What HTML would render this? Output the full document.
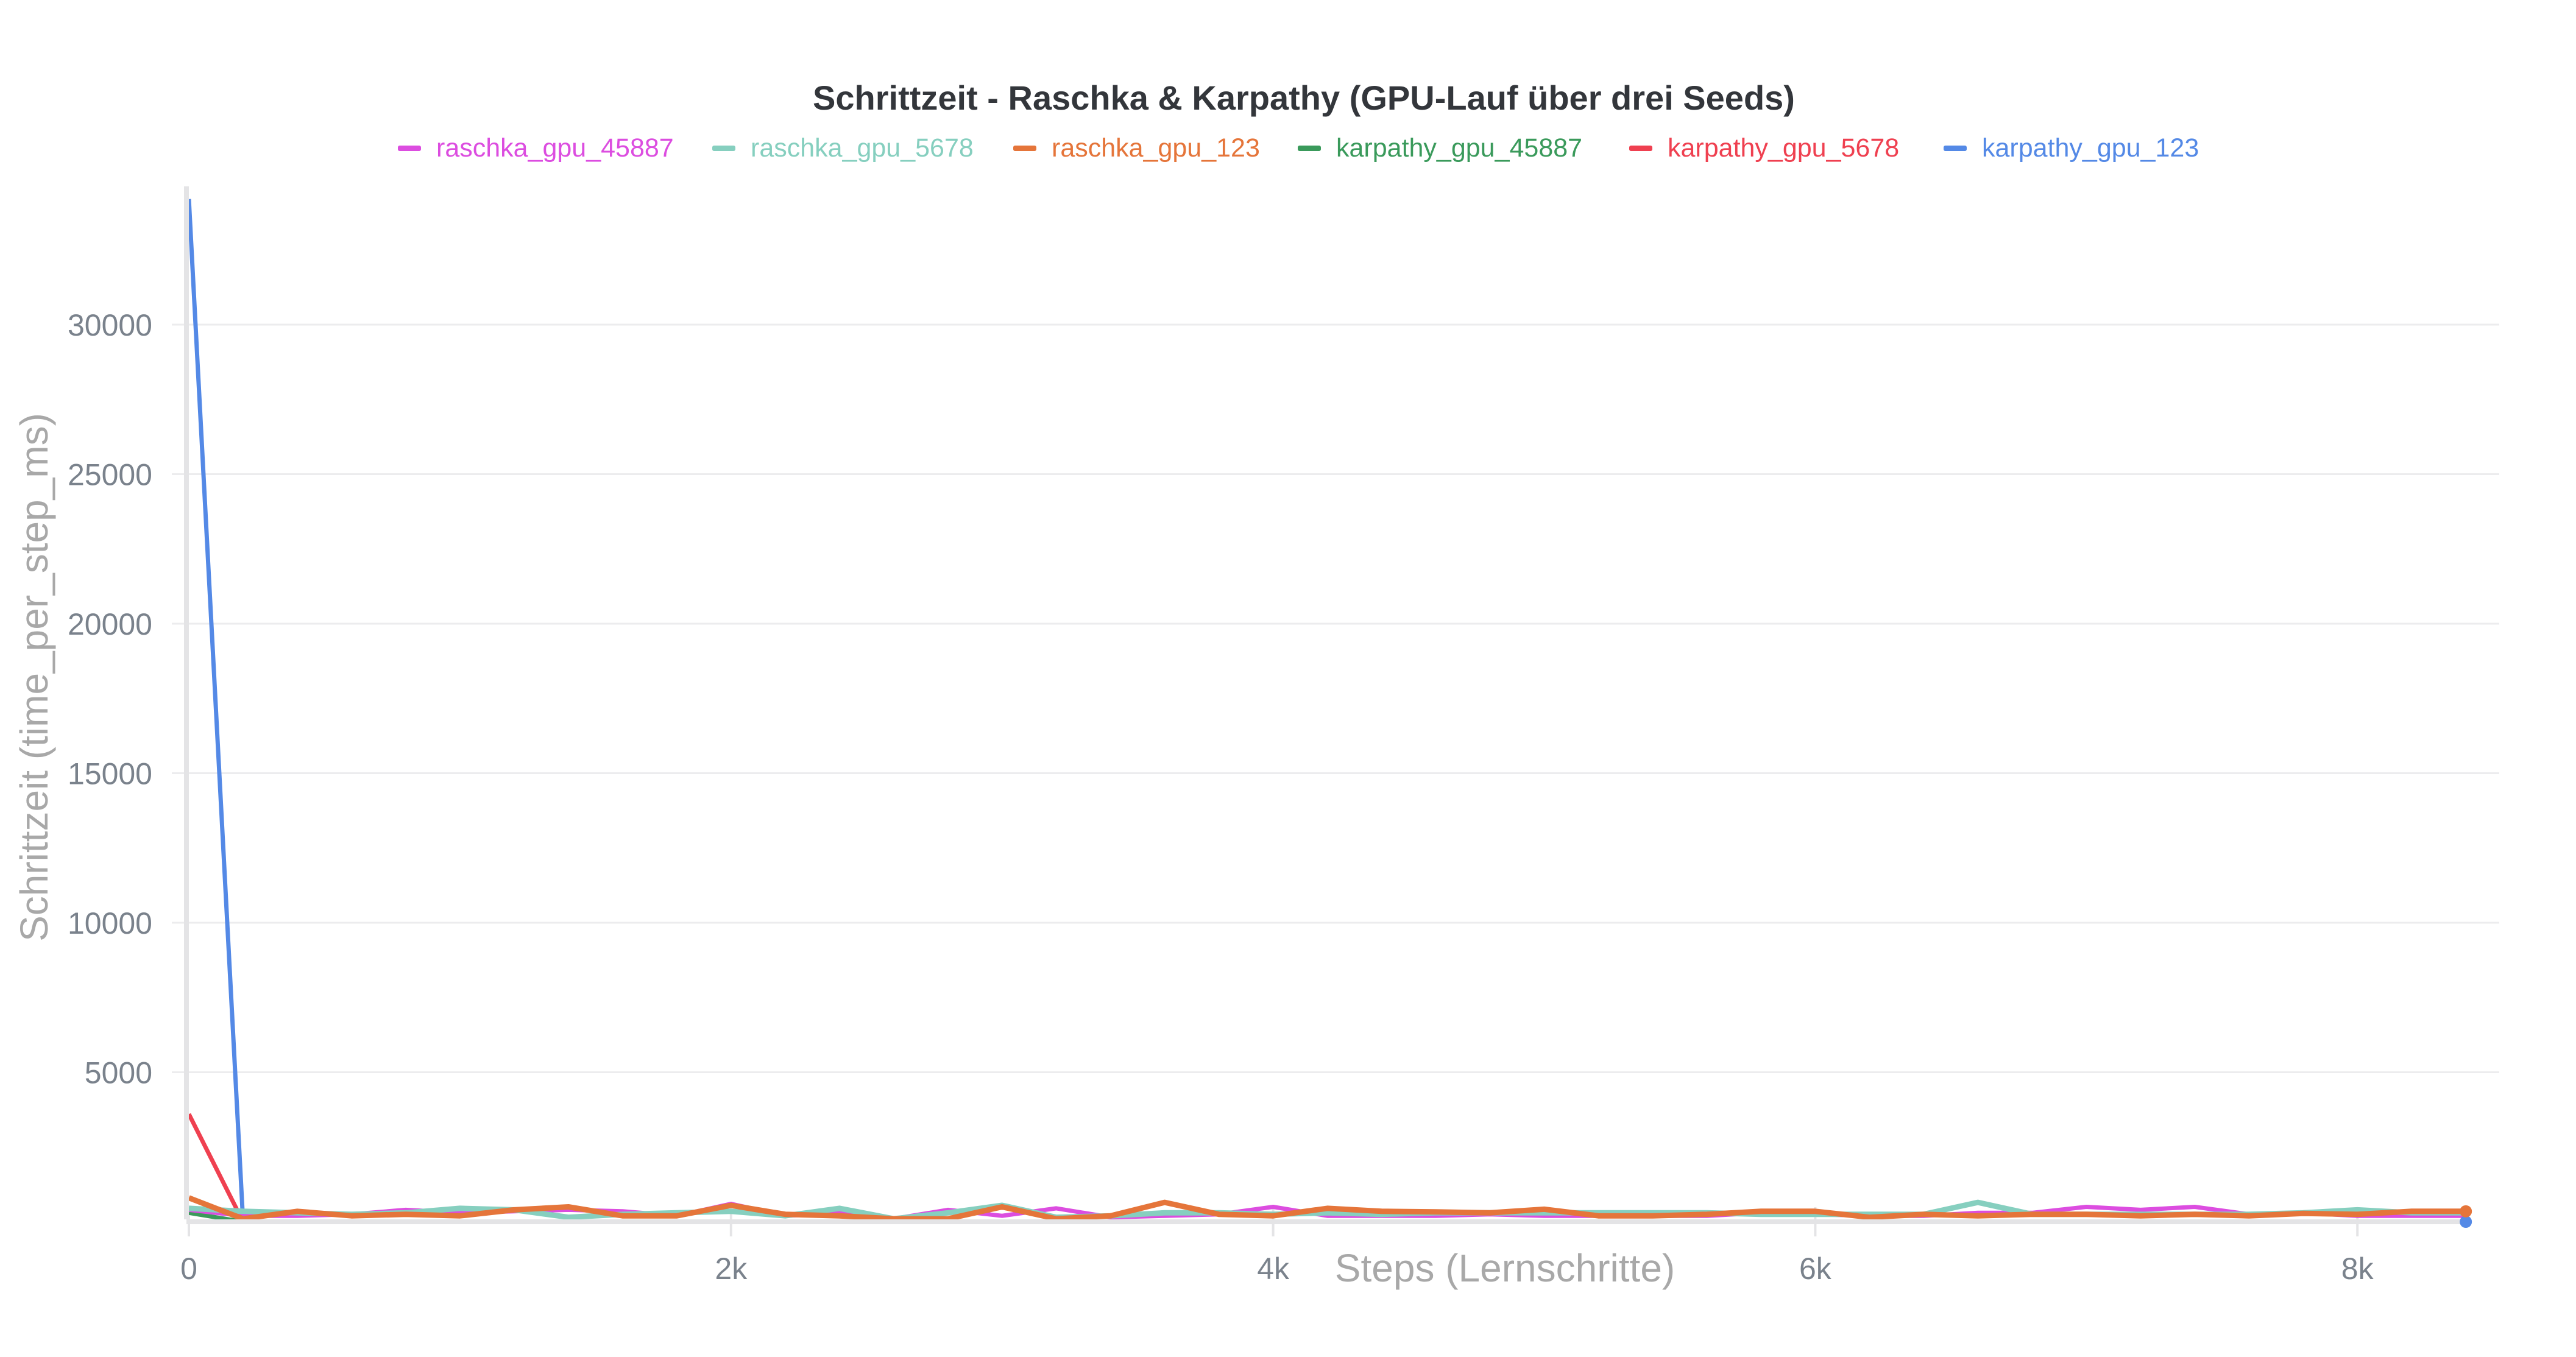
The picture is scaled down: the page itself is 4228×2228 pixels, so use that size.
<!DOCTYPE html>
<html><head><meta charset="utf-8"><style>
html,body{margin:0;padding:0;background:#fff;}
svg{display:block;font-family:"Liberation Sans",sans-serif;}
</style></head><body>
<svg id="chart" width="4228" height="2228" viewBox="0 0 4228 2228" xmlns="http://www.w3.org/2000/svg">
<text x="2140" y="180" text-anchor="middle" font-size="56" font-weight="bold" fill="#33363b">Schrittzeit - Raschka &amp; Karpathy (GPU-Lauf über drei Seeds)</text>
<g id="legend"></g>
<g id="grid"></g>
<g id="series"></g>
<g id="axes"></g>
<text x="78" y="1112" text-anchor="middle" font-size="64" fill="#a8a8a8" transform="rotate(-90 78 1112)">Schrittzeit (time_per_step_ms)</text>
<text x="2470" y="2126" text-anchor="middle" font-size="64" fill="#a8a8a8" transform="translate(0,-22)">Steps (Lernschritte)</text>
</svg>
<script>
const steps = [0,200,400,600,800,1000,1200,1400,1600,1800,2000,2200,2400,2600,2800,3000,3200,3400,3600,3800,4000,4200,4400,4600,4800,5000,5200,5400,5600,5800,6000,6200,6400,6600,6800,7000,7200,7400,7600,7800,8000,8200,8400];
const seriesNames = ["raschka_gpu_45887","raschka_gpu_5678","raschka_gpu_123","karpathy_gpu_45887","karpathy_gpu_5678","karpathy_gpu_123"];
const seriesColors = ["#dc4de0","#86cfbf","#e5753a","#3a9a5b","#ef4050","#5489e6"];
const raschka45887 = [400,200,200,250,400,300,350,400,350,200,600,200,300,100,400,200,450,150,200,250,500,200,200,200,250,200,200,200,200,300,250,200,200,300,300,500,400,500,250,300,200,200,200];
const raschka5678 = [450,350,300,250,300,450,400,150,250,300,350,200,450,100,300,550,150,200,300,300,250,300,250,300,300,300,300,300,300,250,250,250,250,650,250,250,250,250,250,300,400,300,300];
const raschka123 = [800,100,350,200,250,200,400,500,200,200,550,250,200,100,100,500,100,200,650,250,200,450,350,330,300,420,200,200,250,350,350,150,250,200,250,250,200,250,200,280,250,350,350];
const karpathy45887 = [300,0,0,0,0,0,0,0,0,0,0,0,0,0,0,0,0,0,0,0,0,0,0,0,0,0,0,0,0,0,0,0,0,0,0,0,0,0,0,0,0,0,0];
const karpathy5678 = [3600,0,0,0,0,0,0,0,0,0,0,0,0,0,0,0,0,0,0,0,0,0,0,0,0,0,0,0,0,0,0,0,0,0,0,0,0,0,0,0,0,0,0];
const karpathy123 = [34200,0,0,0,0,0,0,0,0,0,0,0,0,0,0,0,0,0,0,0,0,0,0,0,0,0,0,0,0,0,0,0,0,0,0,0,0,0,0,0,0,0,0];
const yTicks = [5000,10000,15000,20000,25000,30000];
const xTicks = [0,2000,4000,6000,8000];
const xTickLabels = ["0","2k","4k","6k","8k"];

const NS = "http://www.w3.org/2000/svg";
const x = v => 310 + v * 0.4449;
const y = v => 2006 - v * 0.0491;
function mk(tag, attrs, parent){const e=document.createElementNS(NS,tag);for(const k in attrs)e.setAttribute(k,attrs[k]);parent.appendChild(e);return e;}

const grid=document.getElementById('grid'), axes=document.getElementById('axes'), ser=document.getElementById('series'), leg=document.getElementById('legend');
yTicks.forEach(t=>{
  const l=mk('line',{x1:282,x2:4102,y1:y(t),y2:y(t),stroke:'#ececee','stroke-width':3},grid);
  
  
  const tx=mk('text',{x:250,y:y(t)+18,'text-anchor':'end','font-size':50,fill:'#7a828c'},grid);
  tx.textContent=t;
  
  
});
xTicks.forEach((t,i)=>{
  const l=mk('line',{x1:x(t),x2:x(t),y1:1982,y2:2030,stroke:'#e4e4e6','stroke-width':4},grid);
  
  
  const tx=mk('text',{x:x(t),y:2100,'text-anchor':'middle','font-size':50,fill:'#7a828c'},grid);
  tx.textContent=xTickLabels[i];
  
  
});

const data=[raschka45887,raschka5678,raschka123,karpathy45887,karpathy5678,karpathy123];
const widths=[7,9,9,7,7,7];
const order=[3,4,5,0,1,2];
order.forEach(i=>{
  const pts=steps.map((s,j)=>x(s).toFixed(1)+','+y(data[i][j]).toFixed(1)).join(' ');
  const p=mk('polyline',{points:pts,fill:'none',stroke:seriesColors[i],'stroke-width':widths[i],'stroke-linejoin':'round'},ser);
  
  
});

const ya=mk('line',{x1:306,x2:306,y1:306,y2:2002,stroke:'#e4e4e6','stroke-width':8},axes);


const xa=mk('line',{x1:306,x2:x(8400),y1:2006,y2:2006,stroke:'#e4e4e6','stroke-width':8},axes);


[5,2].forEach(i=>{
  const last=steps.length-1;
  const c=mk('circle',{cx:x(steps[last]),cy:y(data[i][last]),r:10,fill:seriesColors[i]},axes);
  
  
});

const dashX=[653,1169,1663,2130,2674,3190];
seriesNames.forEach((n,i)=>{
  const g=mk('g',{},leg);
  
  
  mk('rect',{x:dashX[i],y:239,width:38,height:9,rx:3,fill:seriesColors[i]},g);
  const t=mk('text',{x:dashX[i]+63,y:257,'font-size':43,fill:seriesColors[i]},g);
  t.textContent=n;
});
</script>
</body></html>
